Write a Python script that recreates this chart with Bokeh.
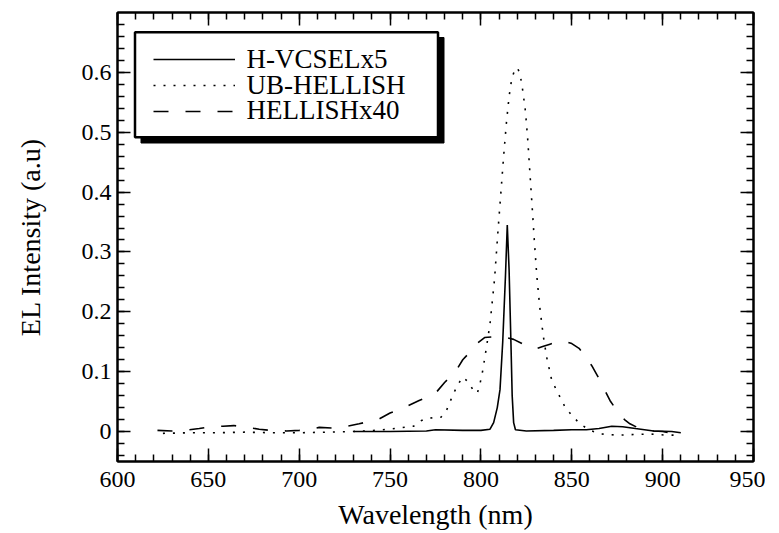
from bokeh.plotting import figure
from bokeh.models import (Legend, LegendItem, LinearAxis, SingleIntervalTicker, Range1d,
                          BoxAnnotation)
from bokeh.embed import file_html
from bokeh.resources import INLINE

# ---- data ----
vcsel_nm = [730, 750, 770, 775, 790, 800, 805, 807, 809, 810.5, 812, 813.5, 814.5,
            815.5, 816.5, 817.2, 818, 819, 825, 840, 850, 858, 865, 872, 878, 885,
            895, 905, 910]
vcsel_int = [0.0, 0.0, 0.001, 0.003, 0.002, 0.002, 0.004, 0.015, 0.04, 0.07, 0.15,
             0.26, 0.345, 0.27, 0.15, 0.06, 0.015, 0.003, 0.001, 0.002, 0.003, 0.003,
             0.005, 0.009, 0.008, 0.005, 0.001, 0.0, -0.002]

ub_nm = [625, 640, 655, 670, 685, 700, 715, 728, 737, 746, 755, 763, 767, 770, 778,
         781, 784, 787, 790, 793, 796, 798, 799.5, 801, 803, 805, 807.5, 809.5, 811,
         812.5, 814, 815.5, 817, 818.5, 820, 821.5, 823, 824.5, 825.8, 827, 828.2,
         829.4, 830.7, 832.3, 834.3, 836.2, 839, 842.6, 846.3, 850, 854.5, 860, 866,
         875, 884, 893, 902, 910]
ub_int = [-0.003, -0.002, -0.002, -0.001, -0.002, -0.002, -0.001, 0.0, 0.001, 0.003,
          0.006, 0.009, 0.018, 0.022, 0.024, 0.035, 0.057, 0.077, 0.091, 0.083, 0.068,
          0.064, 0.08, 0.102, 0.14, 0.18, 0.255, 0.34, 0.40, 0.46, 0.515, 0.56, 0.59,
          0.603, 0.608, 0.598, 0.57, 0.535, 0.486, 0.43, 0.375, 0.318, 0.262, 0.21,
          0.16, 0.124, 0.085, 0.063, 0.041, 0.027, 0.013, 0.002, -0.004, -0.006,
          -0.005, -0.004, -0.006, -0.006]

hel_nm = [622, 630, 637, 645, 651, 658, 664, 671, 678, 684, 693, 700, 705, 711, 718,
          725, 733, 740, 744, 750, 755, 759, 766, 770, 775, 780, 786, 790, 794, 797,
          802, 806, 810, 814, 818, 822, 826, 830, 834, 838, 842, 846, 850, 854, 858,
          861, 864, 867, 871, 875, 879, 882, 886, 890, 895, 900, 905, 910]
hel_int = [0.002, 0.001, 0.002, 0.005, 0.008, 0.009, 0.01, 0.007, 0.004, 0.002, 0.001,
           0.002, 0.003, 0.007, 0.006, 0.008, 0.013, 0.018, 0.021, 0.031, 0.037, 0.042,
           0.052, 0.057, 0.064, 0.082, 0.1, 0.12, 0.133, 0.145, 0.157, 0.158, 0.159,
           0.157, 0.154, 0.148, 0.141, 0.138, 0.142, 0.146, 0.15, 0.151, 0.147, 0.139,
           0.124, 0.11, 0.094, 0.076, 0.052, 0.034, 0.02, 0.013, 0.007, 0.004, 0.001,
           0.0, -0.003, -0.004]

series_names = ["H-VCSELx5", "UB-HELLISH", "HELLISHx40"]
x_label = "Wavelength (nm)"
y_label = "EL Intensity (a.u)"

FONT = "Liberation Serif"

# layout / style (pixel geometry of the frame)
FRAME_W, FRAME_H = 636, 449
X0, X1, Y0, Y1 = 600, 950, -0.05, 0.7


def px_to_x(dx):          # horizontal pixel offset from frame left -> data
    return X0 + dx * (X1 - X0) / FRAME_W


def px_to_y(dy):          # vertical pixel offset from frame top -> data
    return Y1 - dy * (Y1 - Y0) / FRAME_H


p = figure(frame_width=FRAME_W, frame_height=FRAME_H, output_backend="svg",
           toolbar_location=None, x_range=Range1d(X0, X1), y_range=Range1d(Y0, Y1),
           min_border_left=117, min_border_top=12, min_border_right=12, min_border_bottom=10)
p.xgrid.visible = False
p.ygrid.visible = False
p.outline_line_color = "black"
p.outline_line_width = 2
p.outline_line_alpha = 1
p.background_fill_color = "white"
p.border_fill_color = "white"

# legend frame with drop shadow (decoration, positioned in frame pixels)
shadow_box = BoxAnnotation(left=px_to_x(23.5), right=px_to_x(326.5),
                           top=px_to_y(25), bottom=px_to_y(130.5),
                           fill_color="black", fill_alpha=1, line_color="black",
                           line_alpha=1, line_width=1, level="underlay")
legend_box = BoxAnnotation(left=px_to_x(17.5), right=px_to_x(320.5),
                           top=px_to_y(19.7), bottom=px_to_y(124.7),
                           fill_color="white", fill_alpha=1, line_color="black",
                           line_alpha=1, line_width=2.5, level="underlay")
p.add_layout(shadow_box)
p.add_layout(legend_box)

r1 = p.line(vcsel_nm, vcsel_int, line_color="black", line_width=1.6)
r2 = p.line(ub_nm, ub_int, line_color="black", line_width=1.6, line_dash="2 8")
r3 = p.line(hel_nm, hel_int, line_color="black", line_width=1.6, line_dash="15 17")

p.xaxis.ticker = SingleIntervalTicker(interval=50, num_minor_ticks=5)
p.yaxis.ticker = SingleIntervalTicker(interval=0.1, num_minor_ticks=5)
p.yaxis.major_label_overrides = {0: "0"}

for ax in (p.xaxis[0], p.yaxis[0]):
    ax.major_tick_in = 13
    ax.major_tick_out = 0
    ax.minor_tick_in = 7
    ax.minor_tick_out = 0
    ax.axis_line_width = 2
    ax.major_tick_line_width = 1.5
    ax.minor_tick_line_width = 1.5
    ax.major_label_text_font = FONT
    ax.major_label_text_font_size = "24px"
    ax.major_label_text_color = "black"
    ax.axis_label_text_font = FONT
    ax.axis_label_text_font_size = "28px"
    ax.axis_label_text_font_style = "normal"
    ax.axis_label_text_color = "black"

p.xaxis.major_label_standoff = 10
p.yaxis.major_label_standoff = 6
p.xaxis.axis_label = x_label
p.yaxis.axis_label = y_label
p.xaxis.axis_label_standoff = 9
p.yaxis.axis_label_standoff = 33

# mirrored tick marks on top and right
top = LinearAxis(ticker=SingleIntervalTicker(interval=50, num_minor_ticks=5))
right = LinearAxis(ticker=SingleIntervalTicker(interval=0.1, num_minor_ticks=5))
for ax in (top, right):
    ax.major_tick_in = 13
    ax.major_tick_out = 0
    ax.minor_tick_in = 7
    ax.minor_tick_out = 0
    ax.axis_line_width = 2
    ax.major_tick_line_width = 1.5
    ax.minor_tick_line_width = 1.5
    ax.major_label_text_font_size = "0px"
    ax.major_label_standoff = 0
p.add_layout(top, "above")
p.add_layout(right, "right")

# one legend per entry so the rows sit as tightly as in the reference
legend_kw = dict(
    glyph_width=82, glyph_height=20, label_standoff=12, label_height=20,
    label_text_font=FONT, label_text_font_size="27px", label_text_color="black",
    padding=0, spacing=0, margin=0, border_line_alpha=0, background_fill_alpha=0,
)
row_locations = [(35.5, 386.5), (35.5, 360.5), (35.5, 335)]
for name, rend, loc in zip(series_names, (r1, r2, r3), row_locations):
    lg = Legend(items=[LegendItem(label=name, renderers=[rend])], location=loc, **legend_kw)
    p.add_layout(lg, "center")

open("out.html", "w").write(file_html(p, INLINE))
